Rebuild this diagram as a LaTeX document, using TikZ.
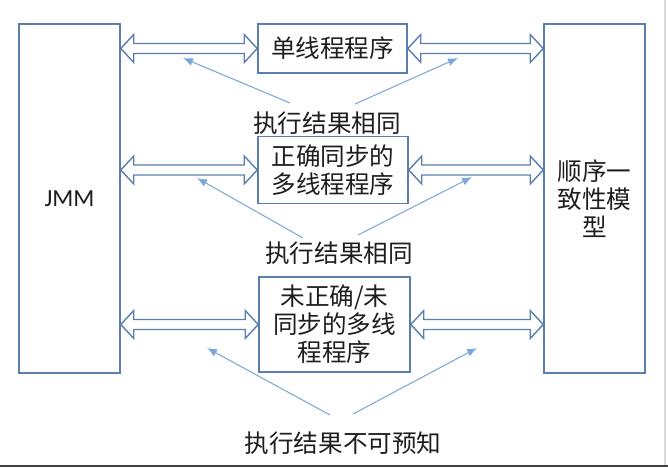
\documentclass[tikz,border=0pt]{standalone}
\usepackage{fontspec}
\setmainfont{Noto Sans CJK SC}
\newfontfamily\latinfont{Carlito}
\usetikzlibrary{arrows.meta,positioning,calc}
\definecolor{ink}{HTML}{1E1E1E}
\definecolor{boxcol}{HTML}{5A7FAE}
\definecolor{linkcol}{HTML}{7DA7D9}
% hollow two-headed block arrow between two points (left tip, right tip)
\newcommand{\dblarrow}[2]{%
  \draw[dbl] (#1) -- ($(#1)+(13,-14)$) -- ($(#1)+(13,-5)$) -- ($(#2)+(-13,-5)$)
    -- ($(#2)+(-13,-14)$) -- (#2) -- ($(#2)+(-13,14)$) -- ($(#2)+(-13,5)$)
    -- ($(#1)+(13,5)$) -- ($(#1)+(13,14)$) -- cycle;}

\begin{document}
\begin{tikzpicture}[x=0.02cm, y=-0.02cm,
  font=\fontsize{14}{16}\selectfont, text=ink, line join=miter,
  box/.style={draw=boxcol, line width=0.9pt, inner sep=0pt, align=center},
  dbl/.style={boxcol, line width=0.8pt},
  fl/.style={-{Latex[length=2mm, width=1.6mm]}, linkcol, line width=0.6pt},
  lab/.style={inner sep=0pt}]

\useasboundingbox (0,0) rectangle (668,467);

% ---- the two models --------------------------------------------------
\node[box, minimum width=2.02cm, minimum height=6.98cm,
      font=\latinfont\fontsize{14}{16}\selectfont] (jmm) at (69.5,198.5) {JMM};
\node[box, minimum width=2.02cm, minimum height=6.98cm] (sc) at (594.5,198.5)
  {顺序一\\致性模\\型};

% ---- the programs ----------------------------------------------------
\node[box, minimum width=2.98cm, minimum height=0.98cm] (single) at (332.5,48.5)
  {单线程程序};
\node[box, minimum width=3.0cm, minimum height=1.34cm] (sync) at (333,170)
  {正确同步的\\多线程程序};
\node[box, minimum width=3.02cm, minimum height=1.9cm] (unsync) at (334.5,324.5)
  {未正确/未\\同步的多线\\程程序};

\foreach \b in {single, sync, unsync}{
  \coordinate (ja) at (jmm.east |- \b.west);
  \coordinate (sa) at (sc.west |- \b.east);
  \dblarrow{ja}{\b.west}
  \dblarrow{\b.east}{sa}
}

% ---- results ---------------------------------------------------------
\node[lab] (same1) at (327,123) {执行结果相同};
\node[lab] (same2) at (339,253) {执行结果相同};
\node[lab] (unknown) at (343,443) {执行结果不可预知};

\coordinate (s1a) at (290,103);  \coordinate (e1a) at (183,58);
\coordinate (s1b) at (355,104);  \coordinate (e1b) at (458,58);
\coordinate (s2a) at (303,238);  \coordinate (e2a) at (197,178);
\coordinate (s2b) at (358,235);  \coordinate (e2b) at (472,177);
\coordinate (s3a) at (330,415);  \coordinate (e3a) at (207,348);
\coordinate (s3b) at (353,414);  \coordinate (e3b) at (477,348);

\foreach \n in {1,2,3}{
  \draw[fl] (s\n a) -- (e\n a);
  \draw[fl] (s\n b) -- (e\n b);
}

% ---- frame edges -----------------------------------------------------
\draw[black!15, line width=1pt] (665,0) -- (665,465);
\draw[ink!85, line width=1.4pt] (0,466) -- (668,466);

\end{tikzpicture}
\end{document}
